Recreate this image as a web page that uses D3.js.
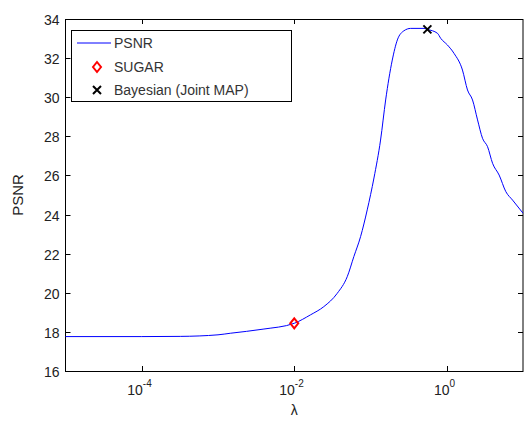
<!DOCTYPE html>
<html>
<head>
<meta charset="utf-8">
<script src="https://cdn.jsdelivr.net/npm/d3@7"></script>
<style>
  body { margin: 0; background: #fff; }
  text { font-family: "Liberation Sans", Arial, Helvetica, sans-serif; }
</style>
</head>
<body>
<svg id="svg0" width="527" height="421"></svg>
<script>
var svg0 = d3.select('#svg0');

// data
var lambdas = [1e-5, 1e-4, 3.2e-4, 1e-3, 1.45e-3, 3.9e-3, 0.01, 0.0163, 0.0244, 0.0366, 0.0495, 0.0605, 0.0741, 0.0906, 0.111, 0.1355, 0.158, 0.193, 0.225, 0.275, 0.3365, 0.5035, 0.557, 0.755, 0.834, 1.021, 1.247, 1.607, 1.871, 2.178, 2.535, 2.944, 3.428, 3.99, 4.864, 5.957, 7.295, 10];
var psnr = [17.76, 17.76, 17.77, 17.85, 17.93, 18.14, 18.44, 18.87, 19.29, 19.97, 20.82, 21.85, 22.87, 24.24, 25.87, 27.81, 29.86, 31.9, 32.93, 33.4, 33.52, 33.52, 33.47, 33.27, 33.01, 32.67, 32.24, 31.39, 30.37, 29.86, 28.84, 27.9, 27.47, 26.62, 26.02, 25.17, 24.74, 24.07];
var sugar = {lambda: 0.01, psnr: 18.44};
var bayes = {lambda: 0.557, psnr: 33.47};
var x_ticks = [1e-4, 1e-2, 1];
var x_tick_exp = ['-4', '-2', '0'];
var y_ticks = [16, 18, 20, 22, 24, 26, 28, 30, 32, 34];
var legend_labels = ['PSNR', 'SUGAR', 'Bayesian (Joint MAP)'];

var ax_left = 65.5, ax_right = 523, ax_top = 19, ax_bottom = 371;
var x = d3.scaleLog().domain([1e-5, 10]).range([ax_left, ax_right]);
var y = d3.scaleLinear().domain([16, 34]).range([ax_bottom, ax_top]);
var tick_len = 5;

// axes box
svg0.append('rect').attr('x', ax_left).attr('y', ax_top + 0.5).attr('width', ax_right-ax_left).attr('height', ax_bottom-ax_top)
	.attr('fill', 'none').attr('stroke', '#000').attr('stroke-width', 1);

// y ticks, left and right, inward
y_ticks.forEach(function(t) {
	var yy = Math.round(y(t)) + 0.5;
	svg0.append('line').attr('x1', ax_left).attr('x2', ax_left+tick_len).attr('y1', yy).attr('y2', yy).attr('stroke', '#000');
	svg0.append('line').attr('x1', ax_right).attr('x2', ax_right-tick_len).attr('y1', yy).attr('y2', yy).attr('stroke', '#000');
	svg0.append('text').attr('x', ax_left-6).attr('y', yy+5).attr('text-anchor', 'end')
		.attr('font-size', 14).attr('fill', '#222').text(t);
});

// x ticks, bottom and top, inward
x_ticks.forEach(function(t, i) {
	var xx = Math.round(x(t)) + 0.5;
	svg0.append('line').attr('x1', xx).attr('x2', xx).attr('y1', ax_bottom).attr('y2', ax_bottom-tick_len).attr('stroke', '#000');
	svg0.append('line').attr('x1', xx).attr('x2', xx).attr('y1', ax_top).attr('y2', ax_top+tick_len).attr('stroke', '#000');
	var lab = svg0.append('text').attr('x', xx-3).attr('y', 395).attr('text-anchor', 'middle')
		.attr('font-size', 14).attr('fill', '#222');
	lab.append('tspan').text('10');
	lab.append('tspan').attr('dy', -8).attr('font-size', 10).text(x_tick_exp[i]);
});

// axis labels
svg0.append('text').attr('x', x(1e-2)).attr('y', 415).attr('text-anchor', 'middle')
	.attr('font-size', 14).attr('fill', '#222').text('λ');
svg0.append('text').attr('transform', 'translate(23,' + ((ax_top+ax_bottom)/2) + ') rotate(-90)')
	.attr('text-anchor', 'middle').attr('font-size', 15).attr('fill', '#222').text('PSNR');

// psnr curve
var line = d3.line().x(function(d, i) { return x(lambdas[i]); }).y(function(d) { return y(d); })
	.curve(d3.curveMonotoneX);
svg0.append('path').datum(psnr).attr('d', line).attr('fill', 'none').attr('stroke', '#0000ff').attr('stroke-width', 1);

// markers
function diamond(g, cx, cy) {
	g.append('path').attr('d', 'M' + cx + ',' + (cy-5) + 'L' + (cx+4) + ',' + cy + 'L' + cx + ',' + (cy+5) + 'L' + (cx-4) + ',' + cy + 'Z')
		.attr('fill', 'none').attr('stroke', '#ff0000').attr('stroke-width', 2);
}
function cross(g, cx, cy) {
	g.append('path').attr('d', 'M' + (cx-4) + ',' + (cy-4) + 'L' + (cx+4) + ',' + (cy+4) + 'M' + (cx-4) + ',' + (cy+4) + 'L' + (cx+4) + ',' + (cy-4))
		.attr('stroke', '#000').attr('stroke-width', 2);
}
diamond(svg0, x(sugar.lambda), y(sugar.psnr));
cross(svg0, x(bayes.lambda), y(bayes.psnr));

// legend
var lg = svg0.append('g');
lg.append('rect').attr('x', 71.5).attr('y', 30.5).attr('width', 220).attr('height', 71)
	.attr('fill', '#fff').attr('stroke', '#000').attr('stroke-width', 1);
var rows = [43, 67, 90];
lg.append('line').attr('x1', 77).attr('x2', 111).attr('y1', rows[0]).attr('y2', rows[0]).attr('stroke', '#0000ff');
diamond(lg, 97, rows[1]);
cross(lg, 97, rows[2]);
legend_labels.forEach(function(l, i) {
	lg.append('text').attr('x', 114).attr('y', rows[i]+5).attr('font-size', 14).attr('fill', '#333').text(l);
});
</script>
</body>
</html>
